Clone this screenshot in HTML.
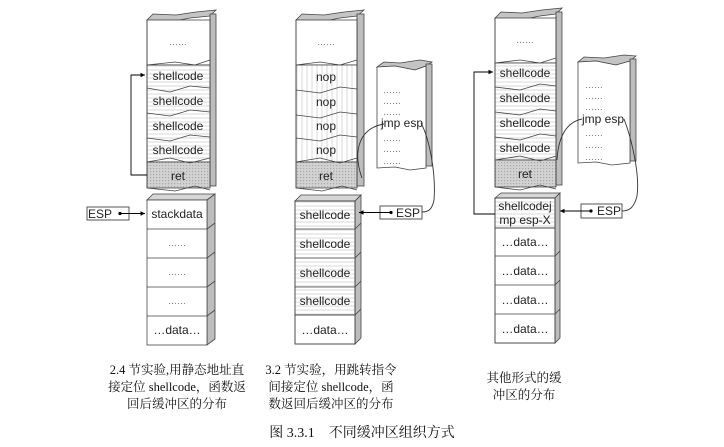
<!DOCTYPE html>
<html><head><meta charset="utf-8"><style>
html,body{margin:0;padding:0;background:#fff;}
svg{display:block;}
.t{font-family:"Liberation Sans",sans-serif;font-size:12px;fill:#222;text-anchor:middle;}
.c{font-family:"Liberation Serif","Noto Serif CJK SC",serif;font-size:12.5px;fill:#111;text-anchor:middle;}
.d{font-family:"Liberation Sans",sans-serif;font-size:9px;fill:#666;text-anchor:middle;}
</style></head><body>
<svg width="724" height="447" viewBox="0 0 724 447" xmlns="http://www.w3.org/2000/svg">
<defs>
<pattern id="hz" width="4" height="4" patternUnits="userSpaceOnUse"><rect width="4" height="4" fill="#fff"/><line x1="0" y1="2" x2="4" y2="2" stroke="#c8c8c8" stroke-width="0.7"/></pattern>
<pattern id="vt" width="5" height="4" patternUnits="userSpaceOnUse"><rect width="5" height="4" fill="#fff"/><line x1="2" y1="0" x2="2" y2="4" stroke="#c8c8c8" stroke-width="0.7"/></pattern>
<pattern id="dt" width="3" height="3" patternUnits="userSpaceOnUse"><rect width="3" height="3" fill="#d2d2d2"/><rect x="0" y="0" width="1.2" height="1.2" fill="#a8a8a8"/></pattern>
<marker id="ar" markerWidth="6" markerHeight="6" refX="5" refY="3" orient="auto"><path d="M0,0.5 L5,3 L0,5.5z" fill="#000"/></marker>
</defs>
<g stroke="#444" stroke-width="0.8">
<polygon points="147,20 170,22 190,18 210,16 216,10 196,12 176,15 153,14" fill="#c4c4c4"/>
<rect x="210" y="14" width="6" height="172" fill="#bdbdbd"/>
<rect x="147" y="20" width="63" height="45" fill="#fff"/>
<rect x="147" y="65" width="63" height="97" fill="url(#hz)"/>
<rect x="147" y="162" width="63" height="26" fill="url(#dt)"/>
<path d="M147,65 L175,62 L195,65 L210,60 M147,88 L170,92 L190,86 L210,88 M147,113 L170,116 L190,110 L210,112 M147,138 L170,141 L190,135 L210,137 M147,162 L170,158 L190,163 L210,158 M147,188 L175,191 L195,186 L210,190" fill="none"/>
<line x1="147" y1="20" x2="147" y2="188"/><line x1="210" y1="18" x2="210" y2="188"/>
<polygon points="147,200 153,194 215,194 207,200" fill="#d6d6d6"/>
<polygon points="207,200 215,194 215,339 207,345" fill="#bdbdbd"/>
<rect x="147" y="200" width="60" height="145" fill="#fff"/>
<path d="M147,229 H207 M147,258 H207 M147,287 H207 M147,316 H207 M207,229 l8,-6 M207,258 l8,-6 M207,287 l8,-6 M207,316 l8,-6" fill="none"/>

<polygon points="296,20 320,22 340,18 357,16 364,10 344,12 324,15 302,14" fill="#c4c4c4"/>
<rect x="357" y="14" width="7" height="172" fill="#bdbdbd"/>
<rect x="296" y="20" width="61" height="45" fill="#fff"/>
<rect x="296" y="65" width="61" height="97" fill="url(#vt)"/>
<rect x="296" y="162" width="61" height="26" fill="url(#dt)"/>
<path d="M296,65 L320,62 L340,65 L357,60 M296,90 L320,93 L340,87 L357,89 M296,115 L320,118 L340,112 L357,114 M296,138 L320,141 L340,135 L357,137 M296,162 L320,158 L340,163 L357,158 M296,188 L322,191 L342,186 L357,190" fill="none"/>
<line x1="296" y1="20" x2="296" y2="188"/><line x1="357" y1="18" x2="357" y2="188"/>
<polygon points="377,67 395,66 415,70 426,66 432,62 420,60 400,63 384,62" fill="#c4c4c4"/>
<rect x="426" y="64" width="6" height="102" fill="#bdbdbd"/>
<path d="M377,67 L395,66 L415,70 L426,66 L426,168 L410,170 L395,167 L377,168 Z" fill="#fff"/>
<polygon points="295,201 301,195 361,195 355,201" fill="#d6d6d6"/>
<polygon points="355,201 361,195 361,338 355,344" fill="#bdbdbd"/>
<rect x="295" y="201" width="60" height="114" fill="url(#hz)"/>
<rect x="295" y="315" width="60" height="29" fill="#fff"/>
<rect x="295" y="201" width="60" height="143" fill="none"/>
<path d="M295,229 H355 M295,258 H355 M295,287 H355 M295,315 H355 M355,229 l6,-6 M355,258 l6,-6 M355,287 l6,-6 M355,315 l6,-6" fill="none"/>

<polygon points="495,18 520,20 540,16 556,14 562,8 542,10 522,13 501,12" fill="#c4c4c4"/>
<rect x="556" y="12" width="6" height="173" fill="#bdbdbd"/>
<rect x="495" y="18" width="61" height="45" fill="#fff"/>
<rect x="495" y="63" width="61" height="97" fill="url(#hz)"/>
<rect x="495" y="160" width="61" height="27" fill="url(#dt)"/>
<path d="M495,63 L520,60 L540,63 L556,58 M495,87 L520,90 L540,84 L556,86 M495,112 L520,115 L540,109 L556,111 M495,137 L520,140 L540,134 L556,136 M495,160 L520,156 L540,161 L556,156 M495,187 L520,190 L540,185 L556,189" fill="none"/>
<line x1="495" y1="18" x2="495" y2="187"/><line x1="556" y1="16" x2="556" y2="187"/>
<polygon points="578,62 596,61 616,65 630,61 636,56 624,55 604,58 584,57" fill="#c4c4c4"/>
<rect x="630" y="59" width="6" height="102" fill="#bdbdbd"/>
<path d="M578,62 L596,61 L616,65 L630,61 L630,163 L612,165 L596,162 L578,163 Z" fill="#fff"/>
<polygon points="495,198 501,193 560,193 555,198" fill="#d6d6d6"/>
<polygon points="555,198 560,193 560,338 555,343" fill="#bdbdbd"/>
<rect x="495" y="198" width="60" height="30" fill="url(#hz)"/>
<rect x="495" y="228" width="60" height="115" fill="#fff"/>
<rect x="495" y="198" width="60" height="145" fill="none"/>
<path d="M495,228 H555 M495,256 H555 M495,285 H555 M495,314 H555 M555,256 l5,-5 M555,285 l5,-5 M555,314 l5,-5" fill="none"/>
</g>

<g stroke="#000" stroke-width="0.9" fill="none">
<polyline points="147,175 131,175 131,75 145,75" marker-end="url(#ar)"/>
<rect x="87" y="207" width="42" height="13" stroke="#444"/>
<line x1="120" y1="213.5" x2="145" y2="213.5" marker-end="url(#ar)"/>
<rect x="380" y="206" width="42" height="13" stroke="#444"/>
<line x1="391" y1="212.5" x2="359" y2="212.5" marker-end="url(#ar)"/>
<path d="M384,124 C360,128 352,150 362,178" stroke="#333"/>
<path d="M421,123 C430,140 436,175 434,200 C432,210 428,212 422,212" stroke="#333"/>
<polyline points="495,214 474,214 474,72 493,72" marker-end="url(#ar)"/>
<rect x="581" y="204" width="41" height="14" stroke="#444"/>
<line x1="591" y1="211" x2="560" y2="211" marker-end="url(#ar)"/>
<path d="M582,119 C565,122 558,140 557,160" stroke="#333"/>
<path d="M624,119 C632,140 640,175 637,196 C634,208 629,211 622,211" stroke="#333"/>
</g>
<g fill="#000"><circle cx="120" cy="213.5" r="1.6"/><circle cx="391" cy="212.5" r="1.6"/><circle cx="591" cy="211" r="1.6"/></g>

<text class="d" x="178" y="45">……</text>
<text class="t" x="178" y="80">shellcode</text>
<text class="t" x="178" y="105">shellcode</text>
<text class="t" x="178" y="130">shellcode</text>
<text class="t" x="178" y="154">shellcode</text>
<text class="t" x="178" y="180">ret</text>
<text class="t" x="100" y="218">ESP</text>
<text class="t" x="177" y="218">stackdata</text>
<text class="d" x="177" y="246">……</text>
<text class="d" x="177" y="275">……</text>
<text class="d" x="177" y="304">……</text>
<text class="t" x="177" y="334">…data…</text>

<text class="d" x="326" y="45">……</text>
<text class="t" x="326" y="81">nop</text>
<text class="t" x="326" y="106">nop</text>
<text class="t" x="326" y="130">nop</text>
<text class="t" x="326" y="154">nop</text>
<text class="t" x="326" y="180">ret</text>
<text class="d" x="392" y="93">……</text>
<text class="d" x="392" y="104">……</text>
<text class="d" x="392" y="115">……</text>
<text class="t" x="402" y="127">jmp esp</text>
<text class="d" x="392" y="141">……</text>
<text class="d" x="392" y="152">……</text>
<text class="d" x="392" y="164">……</text>
<text class="t" x="408" y="217">ESP</text>
<text class="t" x="325" y="219">shellcode</text>
<text class="t" x="325" y="248">shellcode</text>
<text class="t" x="325" y="277">shellcode</text>
<text class="t" x="325" y="305">shellcode</text>
<text class="t" x="325" y="334">…data…</text>

<text class="d" x="525" y="43">……</text>
<text class="t" x="525" y="77">shellcode</text>
<text class="t" x="525" y="102">shellcode</text>
<text class="t" x="525" y="127">shellcode</text>
<text class="t" x="525" y="152">shellcode</text>
<text class="t" x="525" y="178">ret</text>
<text class="d" x="594" y="88">……</text>
<text class="d" x="594" y="99">……</text>
<text class="d" x="594" y="110">……</text>
<text class="t" x="603" y="123">jmp esp</text>
<text class="d" x="594" y="136">……</text>
<text class="d" x="594" y="148">……</text>
<text class="d" x="594" y="160">……</text>
<text class="t" x="609" y="215">ESP</text>
<text class="t" x="525" y="210">shellcodej</text>
<text class="t" x="525" y="224">mp esp-X</text>
<text class="t" x="525" y="246">…data…</text>
<text class="t" x="525" y="275">…data…</text>
<text class="t" x="525" y="304">…data…</text>
<text class="t" x="525" y="333">…data…</text>

<text class="c" x="177" y="374">2.4 节实验,用静态地址直</text>
<text class="c" x="177" y="391">接定位 shellcode，函数返</text>
<text class="c" x="177" y="408">回后缓冲区的分布</text>
<text class="c" x="331" y="374">3.2 节实验，用跳转指令</text>
<text class="c" x="331" y="391">间接定位 shellcode，函</text>
<text class="c" x="331" y="408">数返回后缓冲区的分布</text>
<text class="c" x="524" y="382">其他形式的缓</text>
<text class="c" x="524" y="399">冲区的分布</text>
<text class="c" x="362" y="437" style="font-size:14px">图 3.3.1　不同缓冲区组织方式</text>
</svg>
</body></html>
